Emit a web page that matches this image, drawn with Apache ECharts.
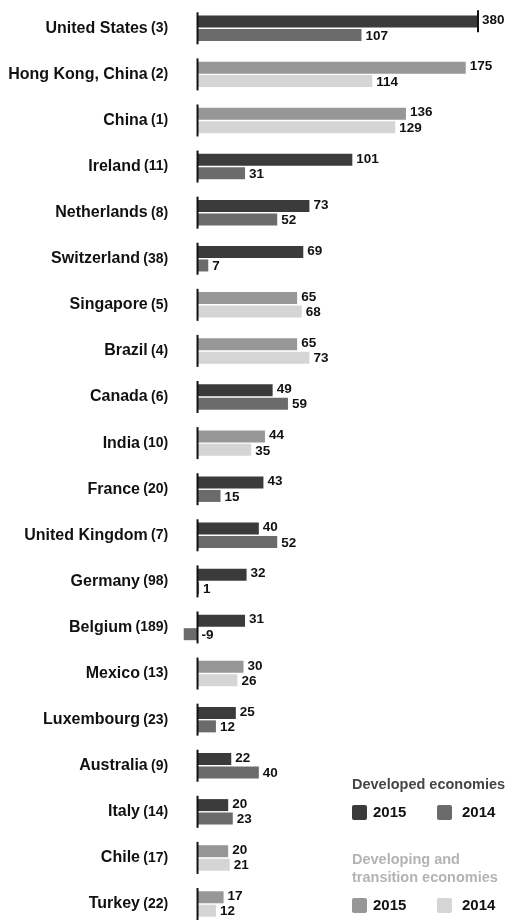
<!DOCTYPE html>
<html>
<head>
<meta charset="utf-8">
<script src="https://cdn.jsdelivr.net/npm/echarts@6/dist/echarts.min.js"></script>
<style>
html,body{margin:0;padding:0;background:#fff;}
#c{width:509px;height:920px;}
</style>
</head>
<body>
<div id="c"></div>
<script>
const economies = ['United States', 'Hong Kong, China', 'China', 'Ireland', 'Netherlands', 'Switzerland', 'Singapore', 'Brazil', 'Canada', 'India', 'France', 'United Kingdom', 'Germany', 'Belgium', 'Mexico', 'Luxembourg', 'Australia', 'Italy', 'Chile', 'Turkey'];
const ranks2014 = [3, 2, 1, 11, 8, 38, 5, 4, 6, 10, 20, 7, 98, 189, 13, 23, 9, 14, 17, 22];
const values2015 = [380, 175, 136, 101, 73, 69, 65, 65, 49, 44, 43, 40, 32, 31, 30, 25, 22, 20, 20, 17];
const values2014 = [107, 114, 129, 31, 52, 7, 68, 73, 59, 35, 15, 52, 1, -9, 26, 12, 40, 23, 21, 12];
const developed = [true, false, false, true, true, true, false, false, true, false, true, true, true, true, false, true, true, true, false, false];

const FONT = "'Liberation Sans', Arial, sans-serif";
const COL = { dev15: '#3b3b3b', dev14: '#6b6b6b', ing15: '#979797', ing14: '#d5d5d5' };
const X_MIN = -10, X_MAX = 183;

const chart = echarts.init(document.getElementById('c'), null, { renderer: 'canvas' });

const d15 = values2015.map((v, i) => ({ value: v, itemStyle: { color: developed[i] ? COL.dev15 : COL.ing15 } }));
const d14 = values2014.map((v, i) => ({ value: v, itemStyle: { color: developed[i] ? COL.dev14 : COL.ing14 } }));
const axisData = economies.map((n, i) => [0, i]);

const legendX = 352;
chart.setOption({
  animation: false,
  grid: { left: 182.2, width: 295.8, top: 5.25, height: 921.8, containLabel: false, outerBoundsMode: 'none' },
  xAxis: {
    type: 'value', min: X_MIN, max: X_MAX,
    axisLine: { show: false }, axisTick: { show: false }, axisLabel: { show: false }, splitLine: { show: false }
  },
  yAxis: {
    type: 'category', inverse: true, data: economies,
    axisLine: { show: false, onZero: false }, axisTick: { show: false }, splitLine: { show: false },
    axisLabel: {
      margin: 14,
      fontSize: 12,
      formatter: (val, idx) => '{n|' + val + '} {r|(' + ranks2014[idx] + ')}',
      rich: {
        n: { fontFamily: FONT, fontWeight: 'bold', fontSize: 16, color: '#111' },
        r: { fontFamily: FONT, fontWeight: 'bold', fontSize: 14, color: '#111' }
      }
    }
  },
  series: [
    {
      name: '2015', type: 'bar', data: d15, barWidth: 12, barGap: '12%', clip: true,
      label: { show: true, position: 'right', distance: 4, offset: [0, -1], fontFamily: FONT, fontWeight: 'bold', fontSize: 13.5, color: '#111' }
    },
    {
      name: '2014', type: 'bar', data: d14, barWidth: 12, barGap: '12%', clip: true,
      label: { show: true, position: 'right', distance: 4, offset: [0, 1], fontFamily: FONT, fontWeight: 'bold', fontSize: 13.5, color: '#111' }
    },
    {
      type: 'custom', data: axisData, clip: false, z: 5, silent: true,
      encode: { x: 0, y: 1 },
      renderItem: (params, api) => {
        const idx = api.value(1);
        const p = api.coord([0, idx]);
        const children = [{
          type: 'line', shape: { x1: p[0], y1: p[1] - 16, x2: p[0], y2: p[1] + 16 },
          style: { stroke: '#111', lineWidth: 2 }
        }];
        if (values2015[idx] > X_MAX) {
          const q = api.coord([X_MAX, idx]);
          children.push({
            type: 'line', shape: { x1: q[0], y1: q[1] - 18, x2: q[0], y2: q[1] + 4 },
            style: { stroke: '#111', lineWidth: 2 }
          });
        }
        return { type: 'group', children };
      }
    }
  ],
  graphic: [
    { type: 'text', left: legendX, top: 777, style: { text: 'Developed economies', font: "bold 14.5px " + FONT, fill: '#454545' } },
    { type: 'rect', left: legendX, top: 805, shape: { width: 15, height: 15, r: 2 }, style: { fill: COL.dev15 } },
    { type: 'text', left: 373, top: 805, style: { text: '2015', font: "bold 15px " + FONT, fill: '#111' } },
    { type: 'rect', left: 437, top: 805, shape: { width: 15, height: 15, r: 2 }, style: { fill: COL.dev14 } },
    { type: 'text', left: 462, top: 805, style: { text: '2014', font: "bold 15px " + FONT, fill: '#111' } },
    { type: 'text', left: legendX, top: 851, style: { text: 'Developing and\ntransition economies', font: "bold 14.5px " + FONT, fill: '#b3b3b3', lineHeight: 18 } },
    { type: 'rect', left: legendX, top: 898, shape: { width: 15, height: 15, r: 2 }, style: { fill: COL.ing15 } },
    { type: 'text', left: 373, top: 898, style: { text: '2015', font: "bold 15px " + FONT, fill: '#111' } },
    { type: 'rect', left: 437, top: 898, shape: { width: 15, height: 15, r: 2 }, style: { fill: COL.ing14 } },
    { type: 'text', left: 462, top: 898, style: { text: '2014', font: "bold 15px " + FONT, fill: '#111' } }
  ]
});
</script>
</body>
</html>
